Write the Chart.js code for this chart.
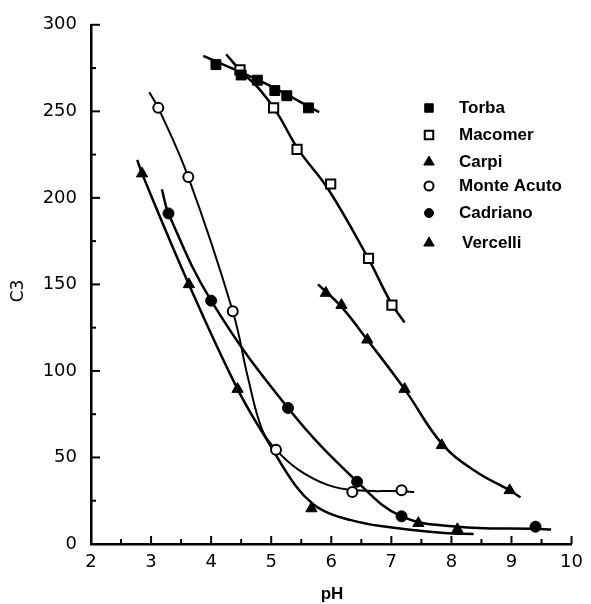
<!DOCTYPE html>
<html>
<head>
<meta charset="utf-8">
<title>C3 vs pH</title>
<script src="https://cdn.jsdelivr.net/npm/chart.js@4.4.1/dist/chart.umd.min.js"></script>
<style>
    html, body { margin: 0; padding: 0; background: #fff; }
    #wrap { position: relative; width: 591px; height: 604px; }
</style>
</head>
<body>
<div id="wrap"><canvas id="c3-chart"></canvas></div>
<script>
(function () {
    'use strict';

    // Axis tick values
    var xTickValues = [2, 3, 4, 5, 6, 7, 8, 9, 10];
    var yTickValues = [0, 50, 100, 150, 200, 250, 300];

    var seriesNames = ['Torba', 'Macomer', 'Carpi', 'Monte Acuto', 'Cadriano', 'Vercelli'];

    var torbaPH = [4.08, 4.50, 4.77, 5.06, 5.26, 5.62];
    var torbaC3 = [277, 271, 268, 262, 259, 252];

    var macomerPH = [4.48, 5.04, 5.43, 5.99, 6.62, 7.01];
    var macomerC3 = [274, 252, 228, 208, 165, 138];

    var carpiPH = [5.91, 6.17, 6.60, 7.22, 7.84, 8.97];
    var carpiC3 = [145, 138, 118, 89.5, 57, 31];

    var monteAcutoPH = [3.12, 3.62, 4.36, 5.08, 6.35, 7.17];
    var monteAcutoC3 = [252, 212, 134.5, 54.5, 30, 31];

    var cadrianoPH = [3.29, 4.00, 5.28, 6.43, 7.17, 9.40];
    var cadrianoC3 = [191, 140.6, 78.6, 36, 16, 10];

    var vercelliPH = [2.85, 3.63, 4.44, 5.67, 7.45, 8.10];
    var vercelliC3 = [214, 150, 89.5, 20.5, 12, 8.5];

    // Fitted curves
    var torbaLinePH = [3.87, 4.85, 5.80];
    var torbaLineC3 = [282, 267, 249.5];

    var macomerLinePH = [4.25, 4.50, 4.80, 5.10, 5.45, 5.95, 6.60, 7.00, 7.22];
    var macomerLineC3 = [283, 273, 263, 249, 228, 205, 166, 139, 128];

    var carpiLinePH = [5.78, 6.17, 6.60, 7.22, 7.84, 8.40, 8.97, 9.15];
    var carpiLineC3 = [150, 137, 118, 89.5, 58, 42, 31, 27];

    var monteAcutoLinePH = [2.97, 3.12, 3.62, 4.36, 4.62, 4.85, 5.08, 5.45, 5.95, 6.40, 7.17, 7.38];
    var monteAcutoLineC3 = [261, 252, 212, 134.5, 95, 66, 54.5, 43, 34, 31, 30.5, 30];

    var cadrianoLinePH = [3.18, 3.29, 4.00, 5.28, 6.43, 7.17, 8.10, 9.40, 9.66];
    var cadrianoLineC3 = [205, 191, 140.6, 78.6, 36, 16, 10, 8.8, 8.4];

    var vercelliLinePH = [2.77, 2.85, 3.63, 4.44, 5.00, 5.40, 5.70, 5.98, 6.30, 6.79, 7.88, 8.37];
    var vercelliLineC3 = [222, 214, 150, 89.5, 56, 34, 23, 17.5, 14, 10.5, 6.3, 5.8];

    // Marker look per series: [pointStyle, filled, radius]
    var markerLook = [
        ['rect', true, 7],
        ['rect', false, 6.5],
        ['triangle', true, 6.5],
        ['circle', false, 5],
        ['circle', true, 5.5],
        ['triangle', true, 6.5]
    ];

    var FONT = '"DejaVu Sans", "Liberation Sans", Arial, sans-serif';
    var LEGEND_FONT = 'bold 17px "Liberation Sans", Arial, sans-serif';

    function toPoints(xs, ys) {
        return xs.map(function (x, i) {
            return { x: x, y: ys[i] };
        });
    }

    /**
     * Dataset for the measured points only.
     */
    function markerSet(idx, xs, ys) {
        var look = markerLook[idx];
        return {
            label: seriesNames[idx],
            data: toPoints(xs, ys),
            showLine: false,
            pointStyle: look[0],
            pointRadius: look[2],
            pointBackgroundColor: look[1] ? '#000' : '#fff',
            pointBorderColor: '#000',
            pointBorderWidth: look[1] ? 1 : 2
        };
    }

    /**
     * Dataset for the smooth drawn line of a series.
     */
    function curveSet(idx, xs, ys, width) {
        return {
            label: seriesNames[idx] + ' fit',
            data: toPoints(xs, ys),
            showLine: true,
            borderColor: '#000',
            borderWidth: width,
            tension: 0.4,
            pointRadius: 0,
            fill: false
        };
    }

    /**
     * Inward tick marks, axis titles and the legend.
     */
    var decorPlugin = {
        id: 'decor',
        afterDraw: function (chart) {
            var ctx = chart.ctx;
            var xs = chart.scales.x;
            var ys = chart.scales.y;
            var area = chart.chartArea;
            var v, px;

            ctx.save();
            ctx.strokeStyle = '#000';
            ctx.lineWidth = 2;

            // x ticks: majors on integers, minors halfway
            for (v = xs.min; v <= xs.max + 1e-9; v += 0.5) {
                px = xs.getPixelForValue(v);
                var xl = (Math.abs(v - Math.round(v)) < 1e-9) ? 8 : 5;
                ctx.beginPath();
                ctx.moveTo(px, area.bottom);
                ctx.lineTo(px, area.bottom - xl);
                ctx.stroke();
            }

            // y ticks: majors every 50, minors every 25
            for (v = ys.min; v <= ys.max + 1e-9; v += 25) {
                px = ys.getPixelForValue(v);
                var yl = (v % 50 === 0) ? 9 : 5;
                ctx.beginPath();
                ctx.moveTo(area.left, px);
                ctx.lineTo(area.left + yl, px);
                ctx.stroke();
            }

            // Axis titles
            ctx.fillStyle = '#000';
            ctx.textAlign = 'center';
            ctx.textBaseline = 'middle';
            ctx.font = 'bold 17px "Liberation Sans", Arial, sans-serif';
            ctx.fillText('pH', 332, 594);

            ctx.save();
            ctx.translate(19, 291);
            ctx.rotate(-Math.PI / 2);
            ctx.font = '17px ' + FONT;
            ctx.fillText('C3', 0, 0);
            ctx.restore();

            // Legend
            var rowsY = [108, 135, 162, 186, 213, 243];
            ctx.font = LEGEND_FONT;
            ctx.textAlign = 'left';
            seriesNames.forEach(function (name, i) {
                var look = markerLook[i];
                ctx.fillStyle = look[1] ? '#000' : '#fff';
                ctx.strokeStyle = '#000';
                ctx.lineWidth = look[1] ? 1 : 2;
                Chart.helpers.drawPoint(ctx, {
                    pointStyle: look[0],
                    radius: look[0] === 'circle' ? 4.5 : 6,
                    rotation: 0,
                    borderWidth: look[1] ? 1 : 2
                }, 429, rowsY[i]);
                ctx.fillStyle = '#000';
                ctx.fillText(name, i === 5 ? 462 : 459, rowsY[i]);
            });

            ctx.restore();
        }
    };

    function initChart() {
        var canvas = document.getElementById('c3-chart');
        if (!canvas || !window.Chart) {
            return;
        }

        var datasets = [
            markerSet(0, torbaPH, torbaC3),
            markerSet(1, macomerPH, macomerC3),
            markerSet(2, carpiPH, carpiC3),
            markerSet(3, monteAcutoPH, monteAcutoC3),
            markerSet(4, cadrianoPH, cadrianoC3),
            markerSet(5, vercelliPH, vercelliC3),
            curveSet(0, torbaLinePH, torbaLineC3, 2.5),
            curveSet(1, macomerLinePH, macomerLineC3, 2.5),
            curveSet(2, carpiLinePH, carpiLineC3, 2.5),
            curveSet(3, monteAcutoLinePH, monteAcutoLineC3, 2),
            curveSet(4, cadrianoLinePH, cadrianoLineC3, 2.5),
            curveSet(5, vercelliLinePH, vercelliLineC3, 2.5)
        ];

        new Chart(canvas.getContext('2d'), {
            type: 'scatter',
            data: { datasets: datasets },
            plugins: [decorPlugin],
            options: {
                responsive: true,
                maintainAspectRatio: false,
                animation: false,
                layout: {
                    padding: { top: 22, right: 11, bottom: 0, left: 0 }
                },
                plugins: {
                    legend: { display: false },
                    tooltip: { enabled: false }
                },
                scales: {
                    x: {
                        type: 'linear',
                        min: 2,
                        max: 10,
                        afterBuildTicks: function (scale) {
                            scale.ticks = xTickValues.map(function (v) { return { value: v }; });
                        },
                        afterFit: function (scale) {
                            scale.height = 60;
                        },
                        ticks: {
                            color: '#000',
                            padding: 8,
                            font: { family: FONT, size: 18 }
                        },
                        grid: { drawOnChartArea: false, drawTicks: false },
                        border: { color: '#000', width: 2.5 }
                    },
                    y: {
                        type: 'linear',
                        min: 0,
                        max: 300,
                        afterBuildTicks: function (scale) {
                            scale.ticks = yTickValues.map(function (v) { return { value: v }; });
                        },
                        afterFit: function (scale) {
                            scale.width = 91;
                        },
                        ticks: {
                            color: '#000',
                            padding: 14,
                            font: { family: FONT, size: 18 }
                        },
                        grid: { drawOnChartArea: false, drawTicks: false },
                        border: { color: '#000', width: 2.5 }
                    }
                }
            }
        });
    }

    initChart();
})();
</script>
</body>
</html>
